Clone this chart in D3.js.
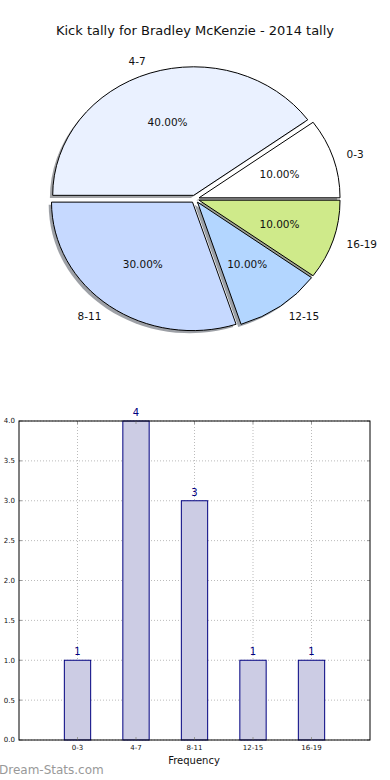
<!DOCTYPE html>
<html>
<head>
<meta charset="utf-8">
<script src="https://cdn.jsdelivr.net/npm/d3@7"></script>
<style>
  body { margin: 0; background: #fff; }
  text { font-family: "DejaVu Sans", sans-serif; }
</style>
</head>
<body>
<script>
'use strict';

// chart data
const categories = ["0-3", "4-7", "8-11", "12-15", "16-19"];
const kicks = [1, 4, 3, 1, 1];
const sliceColors = ["#ffffff", "#eaf1ff", "#c6d9ff", "#b3d6ff", "#cfea8a"];
const yTicks = [0, 0.5, 1, 1.5, 2, 2.5, 3, 3.5, 4];
const title = "Kick tally for Bradley McKenzie - 2014 tally";

// page size
let width = 390,
  height = 780;

const svg = d3.select("body")
  .append("svg")
  .attr("width", width)
  .attr("height", height);

drawPie(svg);
drawBars(svg);

// draws the exploded pie with shadow (matplotlib style, counter-clockwise from east)
function drawPie(svg) {
  const cx = 195, cy = 199, rx = 141, ry = 128.5, explode = 0.03;

  svg.append("text")
    .attr("x", 195)
    .attr("y", 30)
    .attr("dy", "0.35em")
    .attr("text-anchor", "middle")
    .attr("font-size", 13)
    .attr("fill", "#111")
    .text(title);

  const total = d3.sum(kicks);
  const pie = d3.pie().sort(null)
    .startAngle(Math.PI / 2)
    .endAngle(Math.PI / 2 - 2 * Math.PI);
  const arcs = pie(kicks);
  const arc = d3.arc().innerRadius(0).outerRadius(1);

  // unit direction for a d3 angle, scaled to the ellipse
  const pt = (a, k) => [k * rx * Math.sin(a), -k * ry * Math.cos(a)];

  const slices = arcs.map((d, i) => {
    const mid = (d.startAngle + d.endAngle) / 2;
    const off = pt(mid, explode);
    return { d: d, i: i, mid: mid, ox: cx + off[0], oy: cy + off[1] };
  });

  // shadows
  svg.append("g").selectAll("path")
    .data(slices)
    .join("path")
    .attr("transform", s => `translate(${s.ox - 2.8},${s.oy + 2.6}) scale(${rx},${ry})`)
    .attr("d", s => arc(s.d))
    .attr("fill", s => {
      const c = d3.rgb(sliceColors[s.i]);
      return d3.rgb(c.r * 0.3, c.g * 0.3, c.b * 0.3);
    })
    .attr("fill-opacity", 0.5);

  // slices
  svg.append("g").selectAll("path")
    .data(slices)
    .join("path")
    .attr("transform", s => `translate(${s.ox},${s.oy}) scale(${rx},${ry})`)
    .attr("d", s => arc(s.d))
    .attr("fill", s => sliceColors[s.i])
    .attr("stroke", "#000")
    .attr("stroke-width", 1)
    .attr("vector-effect", "non-scaling-stroke");

  // category labels
  svg.append("g").selectAll("text")
    .data(slices)
    .join("text")
    .attr("x", s => s.ox + pt(s.mid, 1.1)[0])
    .attr("y", s => s.oy + pt(s.mid, 1.1)[1])
    .attr("dy", "0.35em")
    .attr("text-anchor", s => Math.sin(s.mid) > 0 ? "start" : "end")
    .attr("font-size", 10.5)
    .attr("fill", "#111")
    .text(s => categories[s.i]);

  // percentage labels
  svg.append("g").selectAll("text")
    .data(slices)
    .join("text")
    .attr("x", s => s.ox + pt(s.mid, 0.6)[0])
    .attr("y", s => s.oy + pt(s.mid, 0.6)[1])
    .attr("dy", "0.35em")
    .attr("text-anchor", "middle")
    .attr("font-size", 10.5)
    .attr("fill", "#111")
    .text(s => (100 * s.d.value / total).toFixed(2) + "%");
}

// draws the frequency bar chart
function drawBars(svg) {
  const left = 19, right = 370, top = 421, bottom = 740;
  const x = d3.scaleLinear().domain([0, categories.length + 1]).range([left, right]);
  const y = d3.scaleLinear().domain([0, 4]).range([bottom, top]);
  const barW = 0.45;
  const g = svg.append("g");

  // grid
  g.selectAll(".hgrid")
    .data(yTicks)
    .join("line")
    .attr("x1", left).attr("x2", right)
    .attr("y1", d => y(d)).attr("y2", d => y(d))
    .attr("stroke", "#bbb")
    .attr("stroke-dasharray", "1,2");
  g.selectAll(".vgrid")
    .data(categories)
    .join("line")
    .attr("x1", (d, i) => x(i + 1)).attr("x2", (d, i) => x(i + 1))
    .attr("y1", top).attr("y2", bottom)
    .attr("stroke", "#bbb")
    .attr("stroke-dasharray", "1,2");

  // bars
  g.selectAll("rect")
    .data(kicks)
    .join("rect")
    .attr("x", (d, i) => x(i + 1 - barW / 2))
    .attr("width", x(barW) - x(0))
    .attr("y", d => y(d))
    .attr("height", d => y(0) - y(d))
    .attr("fill", "#cccce4")
    .attr("stroke", "#000080")
    .attr("stroke-width", 1);

  // bar values
  g.selectAll(".val")
    .data(kicks)
    .join("text")
    .attr("x", (d, i) => x(i + 1))
    .attr("y", d => y(d) - 5)
    .attr("text-anchor", "middle")
    .attr("font-size", 10)
    .attr("fill", "#000080")
    .text(d => d);

  // inside tick marks
  yTicks.forEach(t => {
    g.append("line").attr("x1", left).attr("x2", left + 3)
      .attr("y1", y(t)).attr("y2", y(t)).attr("stroke", "#999");
    g.append("line").attr("x1", right - 3).attr("x2", right)
      .attr("y1", y(t)).attr("y2", y(t)).attr("stroke", "#999");
  });
  categories.forEach((c, i) => {
    g.append("line").attr("x1", x(i + 1)).attr("x2", x(i + 1))
      .attr("y1", top).attr("y2", top + 3).attr("stroke", "#999");
    g.append("line").attr("x1", x(i + 1)).attr("x2", x(i + 1))
      .attr("y1", bottom - 3).attr("y2", bottom).attr("stroke", "#999");
  });

  // frame
  g.append("rect")
    .attr("x", left).attr("y", top)
    .attr("width", right - left).attr("height", bottom - top)
    .attr("fill", "none")
    .attr("stroke", "#000")
    .attr("stroke-width", 1);

  // tick labels
  g.selectAll(".ylab")
    .data(yTicks)
    .join("text")
    .attr("x", left - 4)
    .attr("y", d => y(d))
    .attr("dy", "0.35em")
    .attr("text-anchor", "end")
    .attr("font-size", 7)
    .attr("fill", "#111")
    .text(d => d.toFixed(1));
  g.selectAll(".xlab")
    .data(categories)
    .join("text")
    .attr("x", (d, i) => x(i + 1))
    .attr("y", bottom + 8)
    .attr("dy", "0.35em")
    .attr("text-anchor", "middle")
    .attr("font-size", 7)
    .attr("fill", "#111")
    .text(d => d);

  g.append("text")
    .attr("x", 194)
    .attr("y", 760)
    .attr("dy", "0.35em")
    .attr("text-anchor", "middle")
    .attr("font-size", 10)
    .attr("fill", "#111")
    .text("Frequency");

  // watermark
  svg.append("text")
    .attr("x", -1)
    .attr("y", 770)
    .attr("dy", "0.35em")
    .attr("font-size", 12)
    .attr("fill", "#999")
    .text("Dream-Stats.com");
}
</script>
</body>
</html>
